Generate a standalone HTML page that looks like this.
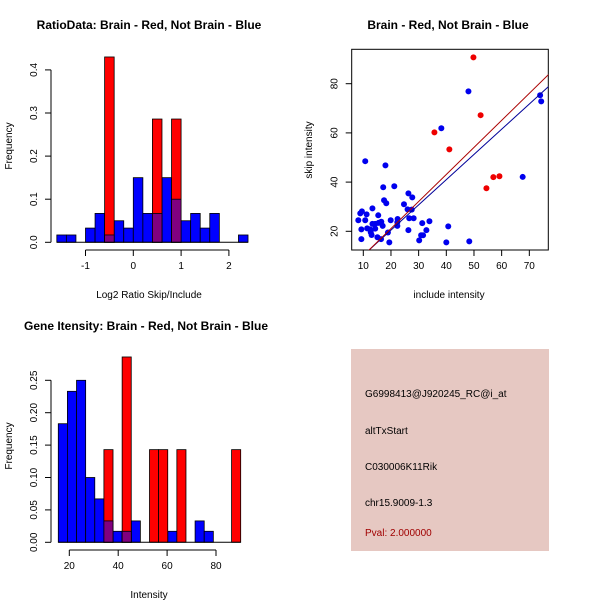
<!DOCTYPE html>
<html><head><meta charset="utf-8"><style>
body{margin:0;background:#fff}
svg{display:block;font-family:"Liberation Sans",sans-serif}
</style></head><body>
<svg id="c" width="600" height="600" xmlns="http://www.w3.org/2000/svg">
<rect width="600" height="600" fill="#fff"/>
<text x="149" y="29" text-anchor="middle" font-size="12" font-weight="bold">RatioData: Brain - Red, Not Brain - Blue</text>
<text x="448" y="29" text-anchor="middle" font-size="12" font-weight="bold">Brain - Red, Not Brain - Blue</text>
<text x="146" y="330" text-anchor="middle" font-size="12" font-weight="bold">Gene Itensity: Brain - Red, Not Brain - Blue</text>
<text x="149" y="298" text-anchor="middle" font-size="10">Log2 Ratio Skip/Include</text>
<text x="449" y="298" text-anchor="middle" font-size="10">include intensity</text>
<text x="149" y="598" text-anchor="middle" font-size="10">Intensity</text>
<text transform="translate(12,146) rotate(-90)" text-anchor="middle" font-size="10">Frequency</text>
<text transform="translate(312,150) rotate(-90)" text-anchor="middle" font-size="10">skip intensity</text>
<text transform="translate(12,446) rotate(-90)" text-anchor="middle" font-size="10">Frequency</text>
<g>
<rect x="351" y="349" width="198" height="202" fill="#e6c8c2"/>
<text x="365" y="397" font-size="10">G6998413@J920245_RC@i_at</text>
<text x="365" y="434" font-size="10">altTxStart</text>
<text x="365" y="470" font-size="10">C030006K11Rik</text>
<text x="365" y="506" font-size="10">chr15.9009-1.3</text>
<text x="365" y="536" font-size="10" fill="#a00000">Pval: 2.000000</text>
</g>
</svg>
<script>
// Ratio histogram data
const ratioBinStart=-1.6, ratioBinW=0.2;
const ratioBlue=[0.017,0.017,0,0.033,0.067,0.017,0.05,0.033,0.15,0.067,0.067,0.15,0.1,0.05,0.067,0.033,0.067,0,0,0.017];
const ratioRed=[0,0,0,0,0,0.43,0,0,0,0,0.286,0,0.286,0,0,0,0,0,0,0];
const ratioXTicks=[-1,0,1,2];
const ratioYTicks=[0,0.1,0.2,0.3,0.4];
// Intensity histogram data
const intBinStart=15.5, intBinW=3.73;
const intBlue=[0.183,0.233,0.25,0.1,0.067,0.033,0.017,0.017,0.033,0,0,0,0.017,0,0,0.033,0.017,0,0,0];
const intRed=[0,0,0,0,0,0.143,0,0.286,0,0,0.143,0.143,0,0.143,0,0,0,0,0,0.143];
const intXTicks=[20,40,60,80];
const intYTicks=[0,0.05,0.1,0.15,0.2,0.25];
// Scatter data
const redX=[49.8,52.4,35.7,41.1,57,59.2,54.5];
const redY=[90.7,67.2,60.2,53.3,42,42.4,37.5];
const blueX=[48,38.2,10.7,18,67.6,73.9,74.3,17.2,21.2,26.3,27.7,17.5,18.3,24.7,9.5,8.9,11.2,13.3,15.4,26,27.5,8.2,10.7,16.5,15.5,14.3,13.3,19.9,22.4,22.3,22.3,17,11.4,12.4,9.3,14.3,12.7,13,18.9,15.1,16.4,9.3,19.4,26.3,26.6,28.2,31.3,33.9,32.8,30.9,31.6,30.2,40.7,40,48.3];
const blueY=[76.9,61.9,48.5,46.8,42.1,75.3,72.8,37.9,38.3,35.4,33.8,32.6,31.4,31,28.1,27.3,26.9,29.3,26.5,28.9,28.8,24.5,24.5,23.9,23.4,23,23,24.5,25,23.7,22.2,22.2,21.2,20.8,20.8,21.1,19.6,18.5,19.5,17.6,16.8,16.8,15.5,20.5,25.3,25.3,23.3,24.1,20.5,18.4,18.4,16.3,22,15.5,15.9];
const fitRed=[-0.9,1.1];
const fitBlue=[0,1.025];
const scXTicks=[10,20,30,40,50,60,70];
const scYTicks=[20,40,60,80];

const svg=document.getElementById('c');
const NS='http://www.w3.org/2000/svg';
function mk(tag,attrs,parent){const e=document.createElementNS(NS,tag);for(const k in attrs)e.setAttribute(k,attrs[k]);(parent||svg).appendChild(e);return e;}
function fmt(v,d){return v.toFixed(d);}

function hist(name,binStart,binW,blue,red,xT,yT,xs,ys,yDec,xAxisY,yAxisX){
  const g=mk('g',{});
  
  
  for(let i=0;i<blue.length;i++){
    const x0=xs(binStart+i*binW),x1=xs(binStart+(i+1)*binW);
    if(blue[i]>0){const r=mk('rect',{x:x0,y:ys(blue[i]),width:x1-x0,height:ys(0)-ys(blue[i]),fill:'#0000ff',stroke:'#000','stroke-width':0.8},g);
      
      }
  }
  for(let i=0;i<red.length;i++){
    const x0=xs(binStart+i*binW),x1=xs(binStart+(i+1)*binW);
    if(red[i]>0){const r=mk('rect',{x:x0,y:ys(red[i]),width:x1-x0,height:ys(0)-ys(red[i]),fill:'#ff0000',stroke:'#000','stroke-width':0.8},g);
      
      
      const ov=Math.min(red[i],blue[i]);
      if(ov>0){const p=mk('rect',{x:x0,y:ys(ov),width:x1-x0,height:ys(0)-ys(ov),fill:'#800080',stroke:'#000','stroke-width':0.8},g);
        
        }
    }
  }
  mk('line',{x1:xs(binStart),x2:xs(binStart+blue.length*binW),y1:ys(0),y2:ys(0),stroke:'#000'},g);
  mk('line',{x1:xs(xT[0]),x2:xs(xT[xT.length-1]),y1:xAxisY,y2:xAxisY,stroke:'#000'},g);
  xT.forEach(t=>{mk('line',{x1:xs(t),x2:xs(t),y1:xAxisY,y2:xAxisY+6,stroke:'#000'},g);
    const tx=mk('text',{x:xs(t),y:xAxisY+19,'text-anchor':'middle','font-size':10},g);tx.textContent=t;});
  mk('line',{x1:yAxisX,x2:yAxisX,y1:ys(yT[0]),y2:ys(yT[yT.length-1]),stroke:'#000'},g);
  yT.forEach(t=>{mk('line',{x1:yAxisX,x2:yAxisX-6,y1:ys(t),y2:ys(t),stroke:'#000'},g);
    const tx=mk('text',{transform:`translate(${yAxisX-14},${ys(t)}) rotate(-90)`,'text-anchor':'middle','font-size':10},g);tx.textContent=fmt(t,yDec);});
}
hist('ratio-histogram',ratioBinStart,ratioBinW,ratioBlue,ratioRed,ratioXTicks,ratioYTicks,
  v=>133.3+v*47.8, v=>242.3-v*431, 1, 250, 51);
hist('intensity-histogram',intBinStart,intBinW,intBlue,intRed,intXTicks,intYTicks,
  v=>69.3+(v-20)*2.445, v=>542.3-v*648, 2, 550, 51);

// scatter
const sx=v=>363.3+(v-10)*2.767, sy=v=>231.3-(v-20)*2.46;
const L=351.7,R=548.3,T=49.3,B=250;
const sg=mk('g',{});


mk('rect',{x:L,y:T,width:R-L,height:B-T,fill:'none',stroke:'#000'},sg);
const cp=mk('clipPath',{id:'cp'},sg);
mk('rect',{x:L,y:T,width:R-L,height:B-T},cp);
blueX.forEach((x,i)=>{const c=mk('circle',{cx:sx(x),cy:sy(blueY[i]),r:3,fill:'#0000ee'},sg);
  
  });
redX.forEach((x,i)=>{const c=mk('circle',{cx:sx(x),cy:sy(redY[i]),r:3,fill:'#ee0000'},sg);
  
  });
function fit(f,col,name){const x0=11.5,x1=80;
  const l=mk('line',{x1:sx(x0),y1:sy(f[0]+f[1]*x0),x2:sx(x1),y2:sy(f[0]+f[1]*x1),stroke:col,'stroke-width':1,'clip-path':'url(#cp)'},sg);
  
  }
fit(fitBlue,'#000099','blue-fit-line');
fit(fitRed,'#aa0000','red-fit-line');
scXTicks.forEach(t=>{mk('line',{x1:sx(t),x2:sx(t),y1:B,y2:B+6,stroke:'#000'},sg);
  const tx=mk('text',{x:sx(t),y:B+19,'text-anchor':'middle','font-size':10},sg);tx.textContent=t;});
scYTicks.forEach(t=>{mk('line',{x1:L,x2:L-6,y1:sy(t),y2:sy(t),stroke:'#000'},sg);
  const tx=mk('text',{transform:`translate(${L-14},${sy(t)}) rotate(-90)`,'text-anchor':'middle','font-size':10},sg);tx.textContent=t;});
</script>
</body></html>
